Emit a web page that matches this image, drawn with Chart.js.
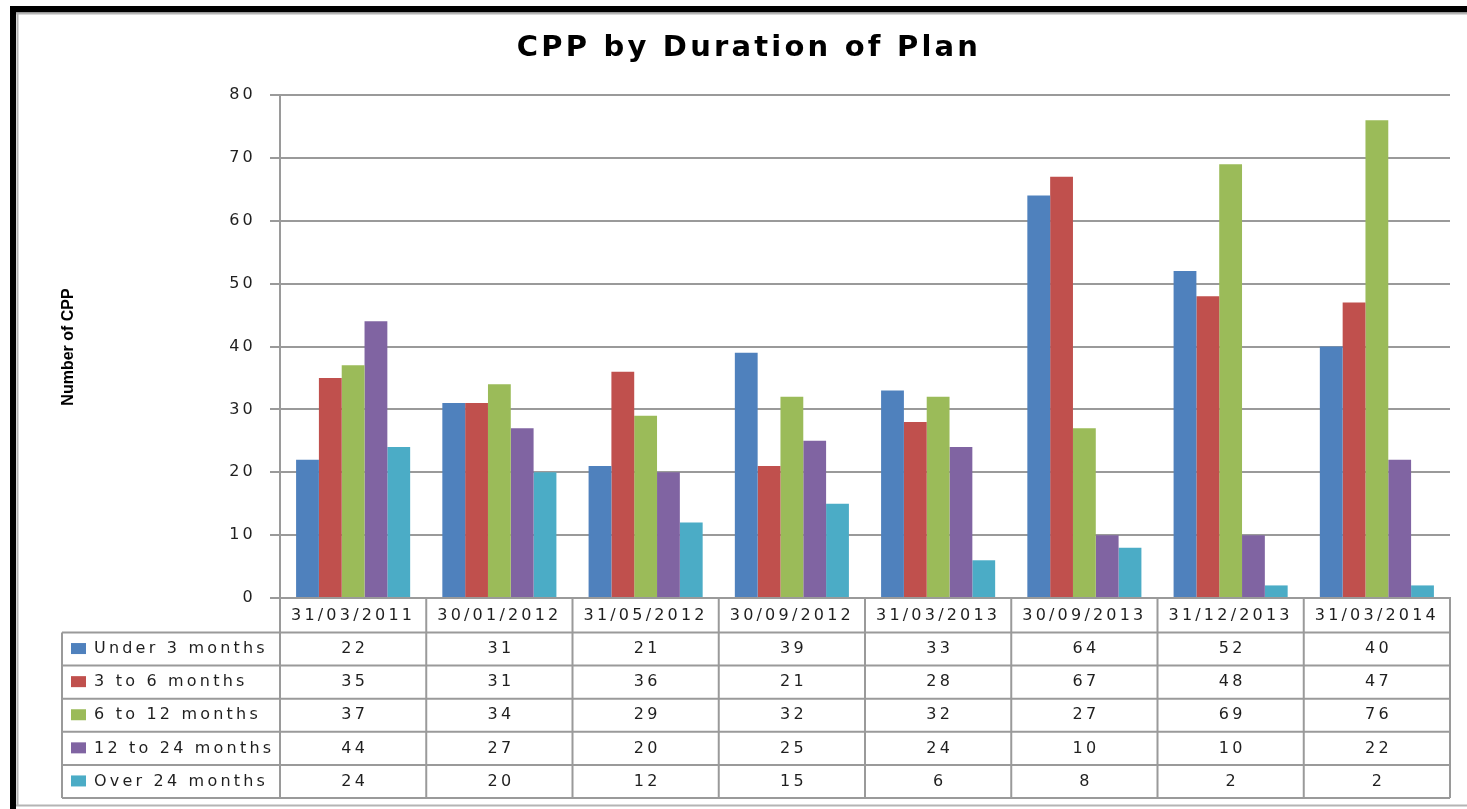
<!DOCTYPE html>
<html>
<head>
<meta charset="utf-8">
<script src="https://cdn.jsdelivr.net/npm/chart.js@4.4.1/dist/chart.umd.min.js"></script>
<style>
  html, body { margin: 0; padding: 0; background: #ffffff; overflow: hidden; }
  #c { display: block; }
</style>
</head>
<body>
<canvas id="c" width="1467" height="809"></canvas>
<script>
// ---- data ----
const categories = ['31/03/2011', '30/01/2012', '31/05/2012', '30/09/2012', '31/03/2013', '30/09/2013', '31/12/2013', '31/03/2014'];
const seriesNames = ['Under 3 months', '3 to 6 months', '6 to 12 months', '12 to 24 months', 'Over 24 months'];
const under3Months   = [22, 31, 21, 39, 33, 64, 52, 40];
const m3to6Months    = [35, 31, 36, 21, 28, 67, 48, 47];
const m6to12Months   = [37, 34, 29, 32, 32, 27, 69, 76];
const m12to24Months  = [44, 27, 20, 25, 24, 10, 10, 22];
const over24Months   = [24, 20, 12, 15, 6, 8, 2, 2];
const yMin = 0, yMax = 80, yStep = 10;
const chartTitle = 'CPP by Duration of Plan';
const yAxisTitle = 'Number of CPP';

// ---- styles ----
const seriesColors = ['#4F81BD', '#C0504D', '#9BBB59', '#8064A2', '#4BACC6'];
const SPACING = '3.2px';
const TEXT_FONT = '"DejaVu Sans", Verdana, sans-serif';
const TEXT_COLOR = '#1f1f1f';
const LINE_GRAY = '#9a9a9a';

const seriesValues = [under3Months, m3to6Months, m6to12Months, m12to24Months, over24Months];

const datasets = seriesNames.map((name, i) => ({
  label: name,
  data: seriesValues[i],
  backgroundColor: seriesColors[i],
  borderWidth: 0,
  categoryPercentage: 0.78,
  barPercentage: 1.0
}));

const tablePlugin = {
  id: 'dataTableAndFrame',
  beforeLayout(chart) { chart.ctx.letterSpacing = SPACING; },
  beforeDraw(chart) { chart.ctx.letterSpacing = SPACING; },
  afterDraw(chart) {
    const ctx = chart.ctx;
    const xs = chart.scales.x;
    const ca = chart.chartArea;
    const n = categories.length;
    const cw = (ca.right - ca.left) / n;
    const headerTop = ca.bottom;
    const headerBottom = headerTop + 34.5;
    const rowH = 33.1;
    const tableLeft = 62;
    const tableBottom = headerBottom + rowH * seriesNames.length;

    ctx.save();
    ctx.letterSpacing = SPACING;
    ctx.strokeStyle = LINE_GRAY;
    ctx.lineWidth = 2;
    ctx.beginPath();
    // vertical column separators
    for (let i = 0; i <= n; i++) {
      const xx = (i < n) ? xs.getPixelForValue(i) - cw / 2 : ca.right;
      ctx.moveTo(xx, headerTop);
      ctx.lineTo(xx, tableBottom);
    }
    // left edge of legend column
    ctx.moveTo(tableLeft, headerBottom);
    ctx.lineTo(tableLeft, tableBottom);
    // horizontal row lines
    for (let r = 0; r <= seriesNames.length; r++) {
      const yy = headerBottom + r * rowH;
      ctx.moveTo(tableLeft, yy);
      ctx.lineTo(ca.right, yy);
    }
    ctx.stroke();

    // cells
    ctx.font = '16px ' + TEXT_FONT;
    ctx.fillStyle = TEXT_COLOR;
    ctx.textBaseline = 'middle';
    for (let r = 0; r < seriesNames.length; r++) {
      const cy = headerBottom + r * rowH + rowH / 2;
      // legend key
      ctx.fillStyle = seriesColors[r];
      ctx.fillRect(71, cy - 6, 15, 11);
      ctx.fillStyle = TEXT_COLOR;
      ctx.textAlign = 'left';
      ctx.fillText(seriesNames[r], 94, cy);
      ctx.textAlign = 'center';
      for (let i = 0; i < n; i++) {
        ctx.fillText(String(seriesValues[r][i]), xs.getPixelForValue(i) + 1.6, cy);
      }
    }

    // y axis title
    ctx.save();
    ctx.letterSpacing = '0px';
    ctx.translate(69, 347);
    ctx.rotate(-Math.PI / 2);
    ctx.font = 'bold 16px "Liberation Sans", Arial, sans-serif';
    ctx.textAlign = 'center';
    ctx.textBaseline = 'middle';
    ctx.fillStyle = '#000000';
    ctx.fillText(yAxisTitle, 0, 0);
    ctx.restore();

    // outer frame
    ctx.fillStyle = '#000000';
    ctx.fillRect(10, 6, chart.width - 10, 6.5);
    ctx.fillRect(10, 6, 6, chart.height - 6);
    ctx.strokeStyle = '#b4b4b4';
    ctx.lineWidth = 2;
    ctx.beginPath();
    ctx.moveTo(16, 13.5); ctx.lineTo(chart.width, 13.5);
    ctx.moveTo(17.5, 13); ctx.lineTo(17.5, 806);
    ctx.moveTo(16, 805.5); ctx.lineTo(chart.width, 805.5);
    ctx.stroke();
    ctx.restore();
  }
};

new Chart(document.getElementById('c'), {
  type: 'bar',
  data: { labels: categories, datasets: datasets },
  options: {
    responsive: false,
    animation: false,
    events: [],
    devicePixelRatio: 1,
    layout: { padding: { left: 48, right: 17, top: 14, bottom: 0 } },
    plugins: {
      legend: { display: false },
      tooltip: { enabled: false },
      title: {
        display: true,
        text: chartTitle,
        color: '#000000',
        font: { family: '"DejaVu Sans", Verdana, sans-serif', size: 29, weight: 'bold', lineHeight: 1.2 },
        padding: { top: 16.6, bottom: 29.6 }
      }
    },
    scales: {
      x: {
        grid: { display: false, drawTicks: false },
        border: { display: true, color: LINE_GRAY, width: 2 },
        ticks: {
          color: TEXT_COLOR,
          font: { family: TEXT_FONT, size: 16, lineHeight: 1.2 },
          padding: 8,
          maxRotation: 0,
          minRotation: 0,
          autoSkip: false
        },
        afterFit(scale) { scale.height = 809 - 598; }
      },
      y: {
        min: yMin,
        max: yMax,
        ticks: {
          stepSize: yStep,
          color: TEXT_COLOR,
          font: { family: TEXT_FONT, size: 16 },
          padding: 14
        },
        grid: { color: LINE_GRAY, lineWidth: 2, tickLength: 10, drawTicks: true },
        border: { display: true, color: LINE_GRAY, width: 2 },
        afterFit(scale) { scale.width = 280 - 48; }
      }
    }
  },
  plugins: [tablePlugin]
});
</script>
</body>
</html>
